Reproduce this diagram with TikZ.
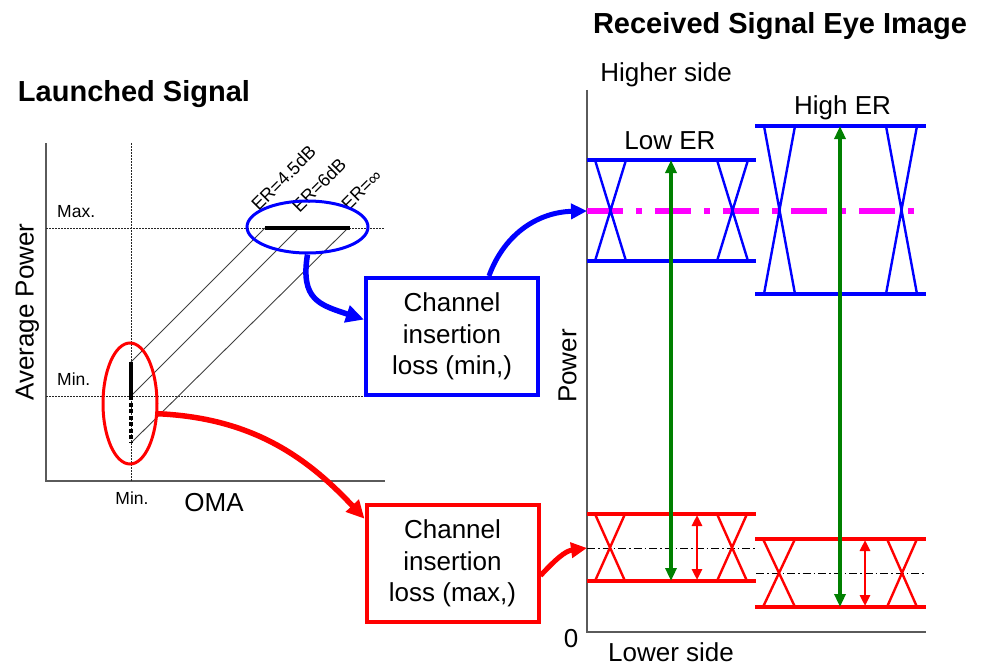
\documentclass[tikz,border=0pt]{standalone}
\usepackage{fontspec}
\setmainfont{Liberation Sans}
\usetikzlibrary{arrows.meta,shapes.geometric,calc}
\definecolor{pblue}{RGB}{0,0,255}
\definecolor{pred}{RGB}{255,0,0}
\definecolor{pgreen}{RGB}{0,128,0}
\definecolor{pmag}{RGB}{255,0,255}
\definecolor{axgray}{RGB}{90,90,90}
\begin{document}
\begin{tikzpicture}[x=1pt,y=-1pt,
  lbl/.style={font=\fontsize{26}{31.5}\selectfont, inner sep=0},
  ttl/.style={font=\fontsize{29}{34}\selectfont\bfseries, inner sep=0},
  sml/.style={font=\fontsize{17.5}{20}\selectfont, inner sep=0},
  erl/.style={font=\fontsize{18}{20}\selectfont, inner sep=0, rotate=45},
  axisline/.style={draw=axgray, line width=1.6},
  dotline/.style={draw=black!85, line width=1, dash pattern=on 1.5pt off 1.5pt},
  diag/.style={draw=black!75, line width=0.9},
  chbox/.style={draw, line width=4, minimum width=172, minimum height=117, align=center, inner sep=0, font=\fontsize{26}{31.5}\selectfont},
  eyeH/.style={line width=4},
  eyeX/.style={line width=2.4},
  bigarrow/.style={line width=5.5, -{Triangle[length=18pt,width=17pt]}},
  midarrow/.style={line width=5, -{Triangle[length=16pt,width=15pt]}},
  garrow/.style={draw=pgreen, line width=3.2, {Triangle[length=13pt,width=11pt]}-{Triangle[length=13pt,width=11pt]}},
  rarrow/.style={draw=pred, line width=2.8, {Triangle[length=11pt,width=10pt]}-{Triangle[length=11pt,width=10pt]}},
  dashdot/.style={draw=black, line width=1, dash pattern=on 8pt off 3pt on 1.5pt off 3pt}
]
\useasboundingbox (0,0) rectangle (987,666);

% titles
\node[ttl, anchor=base] (tL) at (134,102) {Launched Signal};
\node[ttl, anchor=base] (tR) at (780,34) {Received Signal Eye Image};

% ---------------- left chart ----------------
\draw[axisline] (46,143) -- (46,481) -- (385,481);
\draw[dotline] (131,143) -- (131,481);
\draw[dotline] (46,228) -- (385,228);
\draw[dotline] (46,396) -- (366,396);
\draw[diag] (131,362) -- (265,228);
\draw[diag] (131,396) -- (299,228);
\draw[diag] (131,443) -- (348,228);
\draw[line width=4.5] (265,228) -- (350,228);
\draw[line width=4.5] (131,362) -- (131,396);
\draw[line width=4.5, dash pattern=on 4pt off 2.5pt] (131,396) -- (131,443);

\node[sml, anchor=base west] (lmax) at (57,217) {Max.};
\node[sml, anchor=base west] (lmin) at (57,385) {Min.};
\node[sml, anchor=base] (lminx) at (132,504) {Min.};
\node[lbl, anchor=base] (loma) at (214,511) {OMA};
\node[lbl, rotate=90] (lavg) at (27.5,312) {Average Power};

\node[erl] (er1) at (283.5,178) {ER=4.5dB};
\node[erl] (er2) at (319,185) {ER=6dB};
\node[erl] (er3) at (361.5,190) {ER=∞};

\node[ellipse, draw=pblue, line width=3, minimum width=121, minimum height=52, inner sep=0] (ellB) at (307.5,227) {};
\node[ellipse, draw=pred, line width=3, minimum width=54, minimum height=121, inner sep=0] (ellR) at (130,403.5) {};

% ---------------- boxes ----------------
\node[chbox, draw=pblue] (chmin) at (452,336.5) {Channel\\insertion\\loss (min,)};
\node[chbox, draw=pred] (chmax) at (452.5,563.5) {Channel\\insertion\\loss (max,)};

% ---------------- right chart ----------------
\draw[axisline] (587,90) -- (587,632) -- (926,632);
\coordinate (hiax) at (587,211);
\coordinate (loax) at (587,548);

\draw[pmag, line width=6.5, dash pattern=on 36pt off 13pt on 6pt off 13pt] (587,211) -- (927,211);

% blue eyes
\draw[pblue, eyeH] (587,160) -- (756,160) (587,261) -- (756,261);
\draw[pblue, eyeX] (595,160) -- (626,261) (626,160) -- (595,261)
                   (717,160) -- (748,261) (748,160) -- (717,261);
\draw[pblue, eyeH] (755,126) -- (926,126) (755,294) -- (926,294);
\draw[pblue, eyeX] (764,126) -- (795,294) (795,126) -- (764,294)
                   (886,126) -- (917,294) (917,126) -- (886,294);

% red eyes
\draw[dashdot] (587,548) -- (756,548);
\draw[dashdot] (756,573) -- (926,573);
\draw[pred, eyeH] (587,514) -- (756,514) (587,581) -- (756,581);
\draw[pred, eyeX] (595,514) -- (625,581) (625,514) -- (595,581)
                  (717,514) -- (747,581) (747,514) -- (717,581);
\draw[pred, eyeH] (755,539) -- (926,539) (755,607) -- (926,607);
\draw[pred, eyeX] (763,539) -- (795,607) (795,539) -- (763,607)
                  (887,539) -- (917,607) (917,539) -- (887,607);

% amplitude arrows
\draw[garrow] (671,160) -- (671,581);
\draw[garrow] (840,126) -- (840,607);
\draw[rarrow] (697,515) -- (697,580);
\draw[rarrow] (865,540) -- (865,606);

\node[lbl, anchor=base] (lowER) at (670,149) {Low ER};
\node[lbl, anchor=base] (highER) at (842.5,115) {High ER};
\node[lbl, anchor=base] (hside) at (666,82) {Higher side};
\node[lbl, anchor=base] (lside) at (671,661) {Lower side};
\node[lbl, anchor=base] (zero) at (571,647) {0};
\node[lbl, rotate=90] (lpow) at (567.5,366) {Power};

% ---------------- curved arrows ----------------
\draw[bigarrow, pblue] (ellB.south) .. controls (300,300) and (320,305) .. ($(chmin.north west)!0.36!(chmin.south west)$);
\draw[midarrow, pblue] ($(chmin.north west)!0.71!(chmin.north east)$) .. controls (505,232) and (540,212) .. (hiax);
\draw[bigarrow, pred] (ellR.-20) .. controls (250,418) and (305,455) .. ($(chmax.north west)!0.13!(chmax.south west)$);
\draw[midarrow, pred] ($(chmax.north east)!0.6!(chmax.south east)$) .. controls (555,560) and (565,551) .. (loax);
\end{tikzpicture}
\end{document}
